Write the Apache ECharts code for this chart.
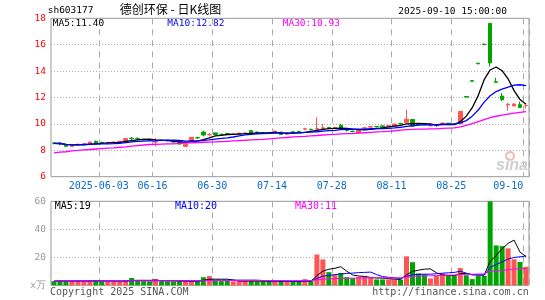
<!DOCTYPE html>
<html><head><meta charset="utf-8">
<script src="https://cdn.jsdelivr.net/npm/echarts@6/dist/echarts.min.js"></script>
<style>html,body{margin:0;padding:0;background:#fff}#c{width:545px;height:300px}</style>
</head><body><div id="c"></div>
<script>
const dates = ['2025-05-21','2025-05-22','2025-05-23','2025-05-26','2025-05-27','2025-05-28','2025-05-29','2025-05-30',
'2025-06-03','2025-06-04','2025-06-05','2025-06-06','2025-06-09','2025-06-10','2025-06-11','2025-06-12','2025-06-13','2025-06-16','2025-06-17','2025-06-18','2025-06-19','2025-06-20','2025-06-23','2025-06-24','2025-06-25','2025-06-26','2025-06-27','2025-06-30',
'2025-07-01','2025-07-02','2025-07-03','2025-07-04','2025-07-07','2025-07-08','2025-07-09','2025-07-10','2025-07-11','2025-07-14','2025-07-15','2025-07-16','2025-07-17','2025-07-18','2025-07-21','2025-07-22','2025-07-23','2025-07-24','2025-07-25','2025-07-28','2025-07-29','2025-07-30','2025-07-31',
'2025-08-01','2025-08-04','2025-08-05','2025-08-06','2025-08-07','2025-08-08','2025-08-11','2025-08-12','2025-08-13','2025-08-14','2025-08-15','2025-08-18','2025-08-19','2025-08-20','2025-08-21','2025-08-22','2025-08-25','2025-08-26','2025-08-27','2025-08-28','2025-08-29',
'2025-09-01','2025-09-02','2025-09-03','2025-09-04','2025-09-05','2025-09-08','2025-09-09','2025-09-10'];

const opens  = [8.55,8.55,8.40,8.30,8.40,8.45,8.45,8.68,8.60,8.55,8.56,8.62,8.74,8.92,8.90,8.84,8.82,8.62,8.76,8.76,8.66,8.62,8.30,8.76,8.96,9.38,9.18,9.32,9.22,9.26,9.22,9.20,9.26,9.49,9.38,9.33,9.34,9.33,9.37,9.22,9.40,9.43,9.60,9.59,9.60,9.57,9.72,9.68,9.90,9.52,9.44,9.32,9.68,9.76,9.80,9.85,9.83,9.84,10.04,10.12,10.33,9.97,9.98,9.86,9.88,9.96,10.05,9.98,10.02,12.08,13.28,14.60,16.05,17.62,13.19,12.11,11.44,11.36,11.46,11.38];
const closes = [8.53,8.50,8.30,8.34,8.46,8.50,8.62,8.52,8.55,8.60,8.62,8.68,8.89,8.88,8.86,8.80,8.76,8.66,8.74,8.74,8.62,8.48,8.45,8.98,8.94,9.16,9.20,9.20,9.19,9.23,9.25,9.30,9.31,9.35,9.35,9.30,9.31,9.45,9.20,9.26,9.30,9.41,9.63,9.57,9.64,9.70,9.70,9.72,9.66,9.50,9.42,9.50,9.70,9.79,9.78,9.76,9.86,9.99,10.01,10.36,9.84,9.95,9.94,9.88,9.92,10.06,9.95,9.96,10.95,12.03,13.23,14.55,16.00,14.62,13.15,11.83,11.48,11.51,11.25,11.40];
const lows   = [8.45,8.38,8.25,8.27,8.38,8.42,8.42,8.48,8.50,8.52,8.55,8.60,8.72,8.78,8.78,8.76,8.72,8.30,8.70,8.68,8.58,8.44,8.25,8.74,8.88,9.05,9.05,9.15,9.12,9.20,9.20,9.18,9.24,9.32,9.32,9.28,9.25,9.30,9.18,9.20,9.28,9.35,9.52,9.50,9.45,9.50,9.62,9.65,9.62,9.42,9.35,9.30,9.50,9.70,9.72,9.72,9.80,9.82,9.95,10.08,9.80,9.88,9.90,9.80,9.75,9.94,9.92,9.90,9.98,12.03,13.23,14.55,16.00,14.35,13.15,11.73,11.00,11.33,11.20,11.16];
const highs  = [8.62,8.62,8.45,8.38,8.50,8.55,8.65,8.74,8.65,8.63,8.65,8.72,8.92,9.00,8.98,8.86,8.84,8.92,8.80,8.80,8.68,8.66,8.48,9.00,9.02,9.48,9.32,9.35,9.26,9.28,9.28,9.33,9.34,9.50,9.40,9.36,9.38,9.48,9.40,9.30,9.42,9.48,9.70,9.64,10.50,10.00,9.78,9.75,10.00,9.58,9.50,9.52,9.72,9.85,9.84,9.87,9.88,10.02,10.08,11.08,10.36,10.02,10.00,9.95,9.93,10.10,10.08,10.02,10.95,12.08,13.28,14.60,16.05,17.62,13.50,12.34,11.59,11.55,11.69,11.42];
const volumes = [3.0,3.2,3.0,3.0,3.2,3.0,3.4,3.5,2.8,2.7,2.9,3.0,3.5,5.2,3.2,3.0,2.8,4.4,3.0,2.8,2.6,3.0,3.0,3.2,3.0,5.8,6.6,3.3,3.0,3.2,2.8,3.0,3.0,3.2,2.8,3.0,3.0,3.2,3.0,2.5,2.5,2.6,4.4,3.0,22.0,18.5,9.4,7.7,8.8,5.8,5.0,6.0,6.0,5.2,4.2,4.2,4.2,4.2,4.0,20.7,16.5,8.5,8.0,4.9,7.0,8.5,7.0,7.0,12.3,7.2,4.4,6.8,6.8,60,28.5,28.0,26.4,18.6,16.7,13.2];
const priceMA30 = [7.81,7.86,7.89,7.95,7.99,8.04,8.06,8.10,8.13,8.16,8.19,8.23,8.26,8.32,8.36,8.40,8.44,8.45,8.47,8.49,8.49,8.52,8.54,8.56,8.59,8.61,8.62,8.64,8.66,8.68,8.71,8.74,8.76,8.79,8.81,8.83,8.87,8.91,8.94,8.97,9.01,9.04,9.06,9.09,9.12,9.16,9.19,9.21,9.24,9.26,9.27,9.30,9.33,9.36,9.39,9.41,9.44,9.48,9.53,9.57,9.58,9.60,9.61,9.62,9.63,9.66,9.68,9.70,9.78,9.88,10.02,10.18,10.33,10.47,10.58,10.66,10.74,10.81,10.87,10.93];

const labelIdx = [8,17,27,37,47,57,67,79];
const labelText = ['2025-06-03','06-16','06-30','07-14','07-28','08-11','08-25','09-10'];
const priceMAText = ['MA5:11.40','MA10:12.82','MA30:10.93'];
const volMAText = ['MA5:19','MA10:20','MA30:11'];

const RED = '#ff5454', GREEN = '#00a400', LABEL_BLUE = '#0a6ac8';
function ma(arr, n){ return arr.map((_, i) => { const s = Math.max(0, i - n + 1); let t = 0; for (let k = s; k <= i; k++) t += arr[k]; return +(t / (i - s + 1)).toFixed(3); }); }

const chart = echarts.init(document.getElementById('c'), null, {renderer:'canvas'});
const mono = 'DejaVu Sans Mono';
const lastIdx = labelIdx[labelIdx.length - 1];
const xBase = (gi, showLabel) => ({
  type:'category', gridIndex:gi, data:dates, boundaryGap:true,
  axisLine:{show:false}, axisTick:{show:false},
  axisLabel:{show:showLabel, interval:(i)=>labelIdx.includes(i) && i !== lastIdx, formatter:(v,i)=>{const k=labelIdx.indexOf(i);return k>=0?labelText[k]:'';},
    color:LABEL_BLUE, fontFamily:mono, fontSize:10, margin:5, padding:[0,6,0,0]},
  splitLine:{show:true, interval:(i)=>labelIdx.includes(i), lineStyle:{color:'#aaa', type:[6,5], width:1}}
});
const txt = (text, x, y, fill, size, align) => ({type:'text', z:100, style:{text, x, y, fill, font: size + 'px "' + mono + '"', align: align||'left', verticalAlign:'middle'}});

chart.setOption({
  animation:false,
  backgroundColor:'#fff',
  grid:[
    {left:51, right:16, top:18.3, height:158.4, show:true, borderColor:'#999', borderWidth:1},
    {left:51, right:16, top:201.3, height:84, show:true, borderColor:'#999', borderWidth:1}
  ],
  xAxis:[xBase(0,true), xBase(1,false)],
  yAxis:[
    {gridIndex:0, min:6, max:18, interval:2, axisLine:{show:false}, axisTick:{show:false},
      axisLabel:{color:'#f00', fontFamily:mono, fontSize:9.5, margin:5},
      splitLine:{lineStyle:{color:'#aaa', type:[1,2]}}},
    {gridIndex:1, min:0, max:60, interval:20, axisLine:{show:false}, axisTick:{show:false},
      axisLabel:{color:'#999', fontFamily:mono, fontSize:9.5, margin:5, formatter:(v)=> v===0 ? 'x万' : String(v)},
      splitLine:{lineStyle:{color:'#aaa', type:[1,2]}}}
  ],
  series:[
    {type:'candlestick', xAxisIndex:0, yAxisIndex:0, barWidth:4,
      data: opens.map((o,i)=>[o, closes[i], lows[i], highs[i]]),
      itemStyle:{color:RED, color0:GREEN, borderColor:RED, borderColor0:GREEN, borderWidth:1}},
    {type:'line', xAxisIndex:0, yAxisIndex:0, data:ma(closes,5), showSymbol:false, lineStyle:{color:'#000', width:1.3}, z:3},
    {type:'line', xAxisIndex:0, yAxisIndex:0, data:ma(closes,10), showSymbol:false, lineStyle:{color:'#0000ff', width:1.3}, z:3},
    {type:'line', xAxisIndex:0, yAxisIndex:0, data:priceMA30, showSymbol:false, lineStyle:{color:'#ff00ff', width:1.3}, z:3},
    {type:'bar', xAxisIndex:1, yAxisIndex:1, barWidth:5,
      data: volumes.map((v,i)=>({value:v, itemStyle:{color: closes[i] >= opens[i] ? RED : GREEN}}))},
    {type:'line', xAxisIndex:1, yAxisIndex:1, data:ma(volumes,5), showSymbol:false, lineStyle:{color:'#000', width:1}, z:3},
    {type:'line', xAxisIndex:1, yAxisIndex:1, data:ma(volumes,10), showSymbol:false, lineStyle:{color:'#0000ff', width:1}, z:3},
    {type:'line', xAxisIndex:1, yAxisIndex:1, data:ma(volumes,30), showSymbol:false, lineStyle:{color:'#ff00ff', width:1}, z:3}
  ],
  graphic:[
    txt('sh603177', 47.7, 11, '#000', 9.5),
    {type:'text', z:100, style:{text:'德创环保 - 日K线图', x:170.5, y:9.5, fill:'#000', font:'12px "Noto Sans CJK SC"', align:'center', verticalAlign:'middle'}},
    txt('2025-09-10 15:00:00', 507, 12, '#000', 9.5, 'right'),
    txt(labelText[labelText.length - 1], 523.3, 186, LABEL_BLUE, 10, 'right'),
    txt(priceMAText[0], 52.7, 24, '#000', 9.5),
    txt(priceMAText[1], 167.3, 24, '#0000ff', 9.5),
    txt(priceMAText[2], 282.7, 24, '#ff00ff', 9.5),
    txt(volMAText[0], 54.7, 206.7, '#000', 10),
    txt(volMAText[1], 175, 206.7, '#0000ff', 10),
    txt(volMAText[2], 295, 206.7, '#ff00ff', 10),
    txt('Copyright 2025 SINA.COM', 50, 292, '#555', 10),
    txt('http://finance.sina.com.cn', 528.7, 292, '#555', 10, 'right'),
    {type:'circle', z:90, shape:{cx:510, cy:156, r:4}, style:{fill:'none', stroke:'#f2b8b8', lineWidth:2}},
    {type:'text', z:90, style:{text:'sina', x:512, y:166, fill:'#cfcfcf', font:'italic bold 16px "Liberation Sans"', align:'center', verticalAlign:'middle'}}
  ]
});
</script></body></html>
